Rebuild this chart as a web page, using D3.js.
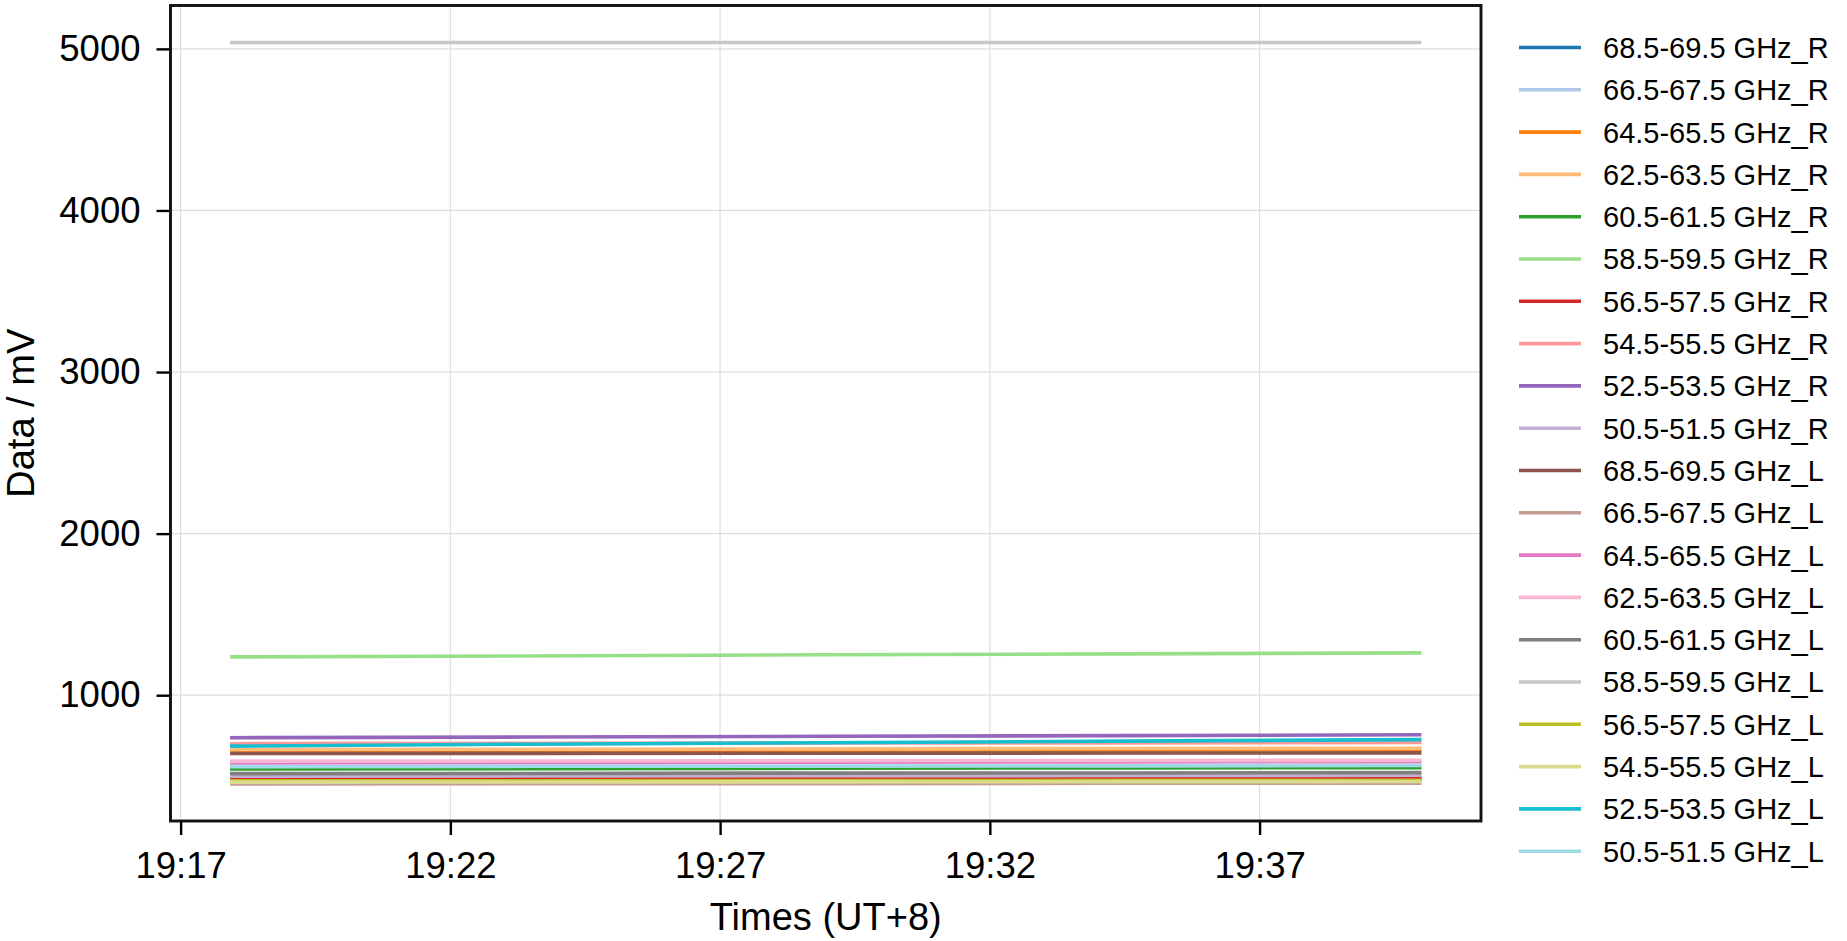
<!DOCTYPE html>
<html>
<head>
<meta charset="utf-8">
<script src="https://cdn.jsdelivr.net/npm/d3@7"></script>
<style>
  html, body { margin: 0; padding: 0; background: #fff; }
  svg { display: block; font-family: "Liberation Sans", Arial, sans-serif; }
</style>
</head>
<body>
<svg id="chart" width="1847" height="941"></svg>
<script>
// ---------- data ----------
const times = ["19:17:55", "19:23:26", "19:28:58", "19:34:29", "19:40:00"];

const seriesNames = [
  "68.5-69.5 GHz_R", "66.5-67.5 GHz_R", "64.5-65.5 GHz_R", "62.5-63.5 GHz_R",
  "60.5-61.5 GHz_R", "58.5-59.5 GHz_R", "56.5-57.5 GHz_R", "54.5-55.5 GHz_R",
  "52.5-53.5 GHz_R", "50.5-51.5 GHz_R", "68.5-69.5 GHz_L", "66.5-67.5 GHz_L",
  "64.5-65.5 GHz_L", "62.5-63.5 GHz_L", "60.5-61.5 GHz_L", "58.5-59.5 GHz_L",
  "56.5-57.5 GHz_L", "54.5-55.5 GHz_L", "52.5-53.5 GHz_L", "50.5-51.5 GHz_L"
];

const v68R = [476, 477, 478, 479, 480];
const v66R = [490, 492, 494, 495, 497];
const v64R = [655, 657, 659, 660, 662];
const v62R = [664, 666, 668, 670, 672];
const v60R = [544, 546, 548, 550, 552];
const v58R = [1237, 1243, 1250, 1256, 1262];
const v56R = [482, 483, 485, 486, 488];
const v54R = [700, 702, 704, 705, 707];
const v52R = [737, 741, 746, 750, 755];
const v50R = [499, 500, 502, 503, 505];
const v68L = [639, 640, 641, 642, 643];
const v66L = [451, 452, 453, 455, 456];
const v64L = [581, 583, 585, 587, 589];
const v62L = [592, 593, 595, 596, 598];
const v60L = [515, 516, 518, 519, 521];
const v58L = [5039, 5039, 5039, 5039, 5039];
const v56L = [470, 471, 472, 473, 474];
const v54L = [462, 463, 464, 465, 466];
const v52L = [685, 697, 706, 716, 725];
const v50L = [558, 560, 561, 563, 565];

const seriesValues = [v68R, v66R, v64R, v62R, v60R, v58R, v56R, v54R, v52R, v50R,
                      v68L, v66L, v64L, v62L, v60L, v58L, v56L, v54L, v52L, v50L];

const colors = ["#1f77b4", "#aec7e8", "#ff7f0e", "#ffbb78", "#2ca02c", "#98df8a",
                "#d62728", "#ff9896", "#9467bd", "#c5b0d5", "#8c564b", "#c49c94",
                "#e377c2", "#f7b6d2", "#7f7f7f", "#c7c7c7", "#bcbd22", "#dbdb8d",
                "#17becf", "#9edae5"];

const xTickLabels = ["19:17", "19:22", "19:27", "19:32", "19:37"];
const yTicks = [1000, 2000, 3000, 4000, 5000];

const xLabel = "Times (UT+8)";
const yLabel = "Data / mV";

// ---------- layout ----------
const svg = d3.select("#chart");
const plot = { left: 170.5, right: 1481, top: 5.5, bottom: 821 };

const parseT = d3.timeParse("%H:%M:%S");
const parseTick = d3.timeParse("%H:%M");
const tDates = times.map(parseT);

// margins like matplotlib (5%)
const tMin = d3.min(tDates), tMax = d3.max(tDates);
const tPad = (tMax - tMin) * 0.05;
const allVals = seriesValues.flat();
const vMin = d3.min(allVals), vMax = d3.max(allVals);
const vPad = (vMax - vMin) * 0.05;

const x = d3.scaleTime()
  .domain([new Date(+tMin - tPad), new Date(+tMax + tPad)])
  .range([plot.left, plot.right]);
const y = d3.scaleLinear()
  .domain([vMin - vPad, vMax + vPad])
  .range([plot.bottom, plot.top]);

const xTickDates = xTickLabels.map(parseTick);

// grid
const grid = svg.append("g");
grid.selectAll("line.gx").data(xTickDates).enter().append("line")
  .attr("x1", d => x(d)).attr("x2", d => x(d))
  .attr("y1", plot.top).attr("y2", plot.bottom)
  .attr("stroke", "#dedede").attr("stroke-width", 1.2);
grid.selectAll("line.gy").data(yTicks).enter().append("line")
  .attr("x1", plot.left).attr("x2", plot.right)
  .attr("y1", d => y(d)).attr("y2", d => y(d))
  .attr("stroke", "#dedede").attr("stroke-width", 1.2);

// lines
const line = d3.line()
  .x((d, i) => x(tDates[i]))
  .y(d => y(d));

const clipId = "plotclip";
svg.append("clipPath").attr("id", clipId).append("rect")
  .attr("x", plot.left).attr("y", plot.top)
  .attr("width", plot.right - plot.left).attr("height", plot.bottom - plot.top);

svg.append("g").attr("clip-path", `url(#${clipId})`)
  .selectAll("path").data(seriesValues).enter().append("path")
  .attr("d", d => line(d))
  .attr("fill", "none")
  .attr("stroke", (d, i) => colors[i])
  .attr("stroke-width", 3.6);

// axes
const xAxis = d3.axisBottom(x)
  .tickValues(xTickDates)
  .tickFormat((d, i) => xTickLabels[i])
  .tickSizeOuter(0).tickSizeInner(14).tickPadding(17);
const yAxis = d3.axisLeft(y)
  .tickValues(yTicks)
  .tickFormat(d3.format("d"))
  .tickSizeOuter(0).tickSizeInner(14).tickPadding(16);

const gx = svg.append("g").attr("transform", `translate(0,${plot.bottom})`).call(xAxis);
const gy = svg.append("g").attr("transform", `translate(${plot.left},0)`).call(yAxis);
[gx, gy].forEach(g => {
  g.select(".domain").remove();
  g.selectAll(".tick line").attr("stroke", "#000").attr("stroke-width", 2.4);
  g.selectAll(".tick text").attr("fill", "#000")
    .style("font-size", "36.5px").style("font-family", '"Liberation Sans", Arial, sans-serif');
});

// frame
svg.append("rect")
  .attr("x", plot.left).attr("y", plot.top)
  .attr("width", plot.right - plot.left).attr("height", plot.bottom - plot.top)
  .attr("fill", "none").attr("stroke", "#111").attr("stroke-width", 2.9);

// axis labels
svg.append("text")
  .attr("x", (plot.left + plot.right) / 2).attr("y", 930)
  .attr("text-anchor", "middle")
  .style("font-size", "38px").text(xLabel);
svg.append("text")
  .attr("transform", `translate(34,${(plot.top + plot.bottom) / 2}) rotate(-90)`)
  .attr("text-anchor", "middle")
  .style("font-size", "38px").text(yLabel);

// legend
const leg = svg.append("g");
const legY0 = 47.5, legDy = 42.3;
seriesNames.forEach((name, i) => {
  const yy = legY0 + i * legDy;
  leg.append("line")
    .attr("x1", 1519).attr("x2", 1581).attr("y1", yy).attr("y2", yy)
    .attr("stroke", colors[i]).attr("stroke-width", 3.6);
  leg.append("text")
    .attr("x", 1603).attr("y", yy).attr("dy", "0.36em")
    .style("font-size", "29px").text(name);
});
</script>
</body>
</html>
